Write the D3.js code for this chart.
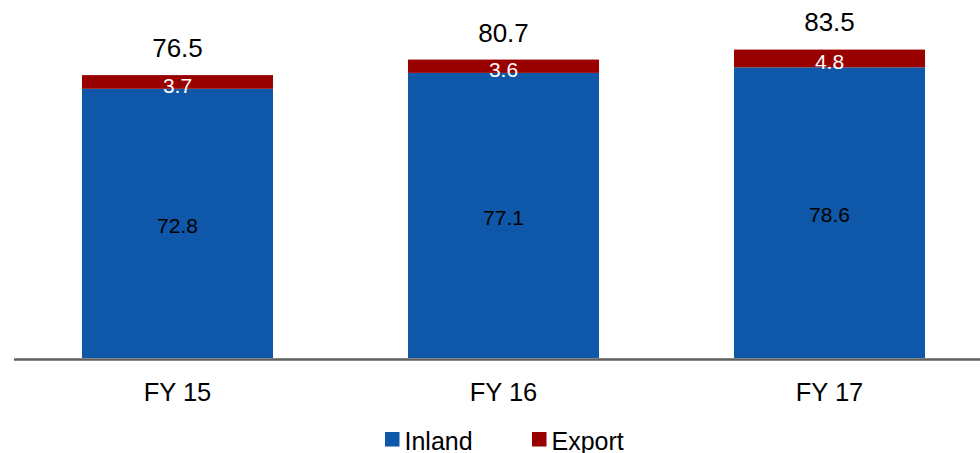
<!DOCTYPE html>
<html>
<head>
<meta charset="utf-8">
<script src="https://cdn.jsdelivr.net/npm/d3@7"></script>
<style>
  html, body { margin: 0; padding: 0; background: #fff; }
  svg { display: block; font-family: "Liberation Sans", Arial, sans-serif; }
</style>
</head>
<body>
<svg id="chart" width="980" height="453"></svg>
<script>
const categories = ["FY 15", "FY 16", "FY 17"];
const inland = [72.8, 77.1, 78.6];
const exportVals = [3.7, 3.6, 4.8];
const totals = [76.5, 80.7, 83.5];
const seriesNames = ["Inland", "Export"];
const seriesColors = ["#0F57A8", "#990000"];

const svg = d3.select("#chart");

const x = d3.scaleBand().domain(categories).range([14.5, 992.5]).paddingInner(0.414).paddingOuter(0.207);
const y = d3.scaleLinear().domain([0, 90]).range([358, 358 - 90 * 3.698]);

const rows = categories.map((c, i) => ({ cat: c, Inland: inland[i], Export: exportVals[i], total: totals[i] }));
const stack = d3.stack().keys(seriesNames)(rows);

const g = svg.append("g");
stack.forEach((layer, li) => {
  g.selectAll(null).data(layer).enter().append("rect")
    .attr("x", d => x(d.data.cat))
    .attr("width", x.bandwidth())
    .attr("y", d => y(d[1]))
    .attr("height", d => y(d[0]) - y(d[1]))
    .attr("fill", seriesColors[li]);
});

// segment labels
stack.forEach((layer, li) => {
  g.selectAll(null).data(layer).enter().append("text")
    .attr("x", d => x(d.data.cat) + x.bandwidth() / 2)
    .attr("y", d => (y(d[0]) + y(d[1])) / 2 + (li === 0 ? 9.5 : 11))
    .attr("text-anchor", "middle")
    .attr("font-size", 21)
    .attr("fill", li === 0 ? "#000" : "#fff")
    .text(d => d3.format(".1f")(d[1] - d[0]));
});

// totals
g.selectAll(null).data(rows).enter().append("text")
  .attr("x", d => x(d.cat) + x.bandwidth() / 2)
  .attr("y", d => y(d.total) - 18)
  .attr("text-anchor", "middle")
  .attr("font-size", 26)
  .attr("fill", "#000")
  .text(d => d3.format(".1f")(d.total));

// axis
const axis = d3.axisBottom(x).tickSize(0).tickPadding(0);
const ax = svg.append("g").attr("transform", "translate(0,359.5)").call(axis);
ax.select(".domain").remove();
ax.append("line").attr("x1", 14).attr("x2", 980).attr("y1", 0).attr("y2", 0)
  .attr("stroke", "#5f5f5f").attr("stroke-width", 2.5);
ax.selectAll(".tick text")
  .attr("font-size", 25.5)
  .attr("font-family", "Liberation Sans, Arial, sans-serif")
  .attr("fill", "#000")
  .attr("dy", null)
  .attr("y", 41.2);

// legend
const legendX = [385, 532];
const leg = svg.append("g");
seriesNames.forEach((n, i) => {
  leg.append("rect").attr("x", legendX[i]).attr("y", 432).attr("width", 14.5).attr("height", 14.5)
    .attr("fill", seriesColors[i]);
  leg.append("text").attr("x", legendX[i] + 19.5).attr("y", 449.5)
    .attr("font-size", 25).attr("fill", "#000").text(n);
});
</script>
</body>
</html>
